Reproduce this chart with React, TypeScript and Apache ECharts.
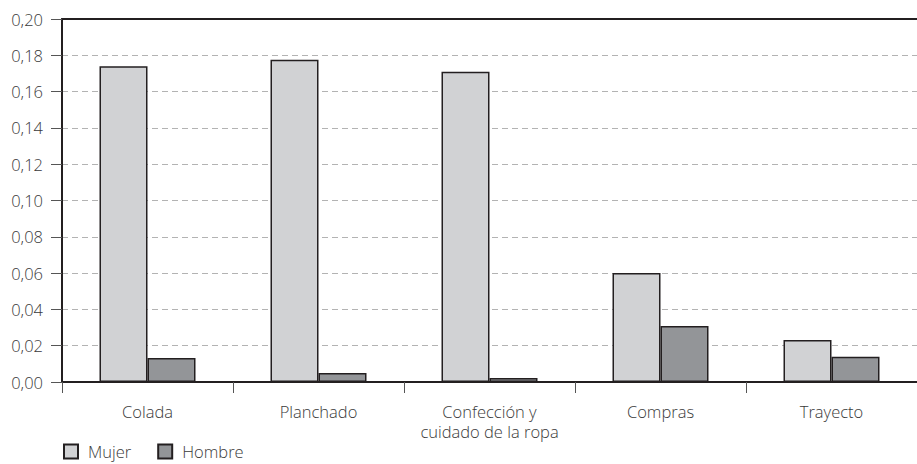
import React, { useEffect, useRef } from "react";
import * as echarts from "echarts";

const categories = ["Colada", "Planchado", "Confección y\ncuidado de la ropa", "Compras", "Trayecto"];
const mujer = [0.174, 0.1775, 0.171, 0.060, 0.0232];
const hombre = [0.0132, 0.005, 0.0022, 0.0309, 0.0139];
const yTicks = { min: 0, max: 0.2, interval: 0.02 };

const FONT = "'Open Sans', sans-serif";
const TXT = "#3a3a3a";

export default function App() {
  const ref = useRef<HTMLDivElement>(null);
  useEffect(() => {
    if (!ref.current) return;
    const chart = echarts.init(ref.current, undefined, { renderer: "svg" });
    chart.setOption({
      animation: false,
      backgroundColor: "#ffffff",
      textStyle: { fontFamily: FONT },
      grid: { left: 62, right: 0, top: 19, bottom: 82, containLabel: false },
      legend: {
        left: 61,
        top: 441,
        icon: "rect",
        itemWidth: 14,
        itemHeight: 14,
        itemGap: 26,
        padding: [2, 2, 2, 2],
        textStyle: { fontFamily: FONT, fontSize: 16.5, fontWeight: 300, color: TXT, padding: [0, 0, 0, 5] },
        data: ["Mujer", "Hombre"],
      },
      xAxis: [
        {
          type: "category",
          data: categories,
          axisLine: { lineStyle: { color: "#231f20", width: 2 } },
          axisTick: { show: true, length: 11, lineStyle: { color: "#555", width: 1 } },
          axisLabel: {
            fontFamily: FONT,
            fontSize: 16.5,
            fontWeight: 300,
            color: TXT,
            margin: 19,
            lineHeight: 20,
            interval: 0,
          },
        },
        {
          type: "category",
          data: categories,
          position: "top",
          axisLine: { show: true, lineStyle: { color: "#231f20", width: 2 } },
          axisTick: { show: false },
          axisLabel: { show: false },
        },
      ],
      yAxis: {
        type: "value",
        min: yTicks.min,
        max: yTicks.max,
        interval: yTicks.interval,
        axisLine: { show: true, lineStyle: { color: "#231f20", width: 2 } },
        axisTick: { show: true, length: 11, lineStyle: { color: "#555", width: 1 } },
        axisLabel: {
          fontFamily: FONT,
          fontSize: 16.5,
          fontWeight: 300,
          color: TXT,
          margin: 19,
          formatter: (v: number) => v.toFixed(2).replace(".", ","),
        },
        splitLine: { show: true, lineStyle: { color: "#b3b3b3", type: [6, 4], width: 1 } },
      },
      series: [
        {
          name: "Mujer",
          type: "bar",
          data: mujer,
          barWidth: 48,
          barGap: "0%",
          itemStyle: { color: "#d1d2d4", borderColor: "#231f20", borderWidth: 1.5 },
        },
        {
          name: "Hombre",
          type: "bar",
          data: hombre,
          barWidth: 48,
          barGap: "0%",
          itemStyle: { color: "#939598", borderColor: "#231f20", borderWidth: 1.5 },
        },
      ],
    });
    return () => chart.dispose();
  }, []);
  return <div ref={ref} style={{ width: 917, height: 464, position: "absolute", left: 0, top: 0 }} />;
}
